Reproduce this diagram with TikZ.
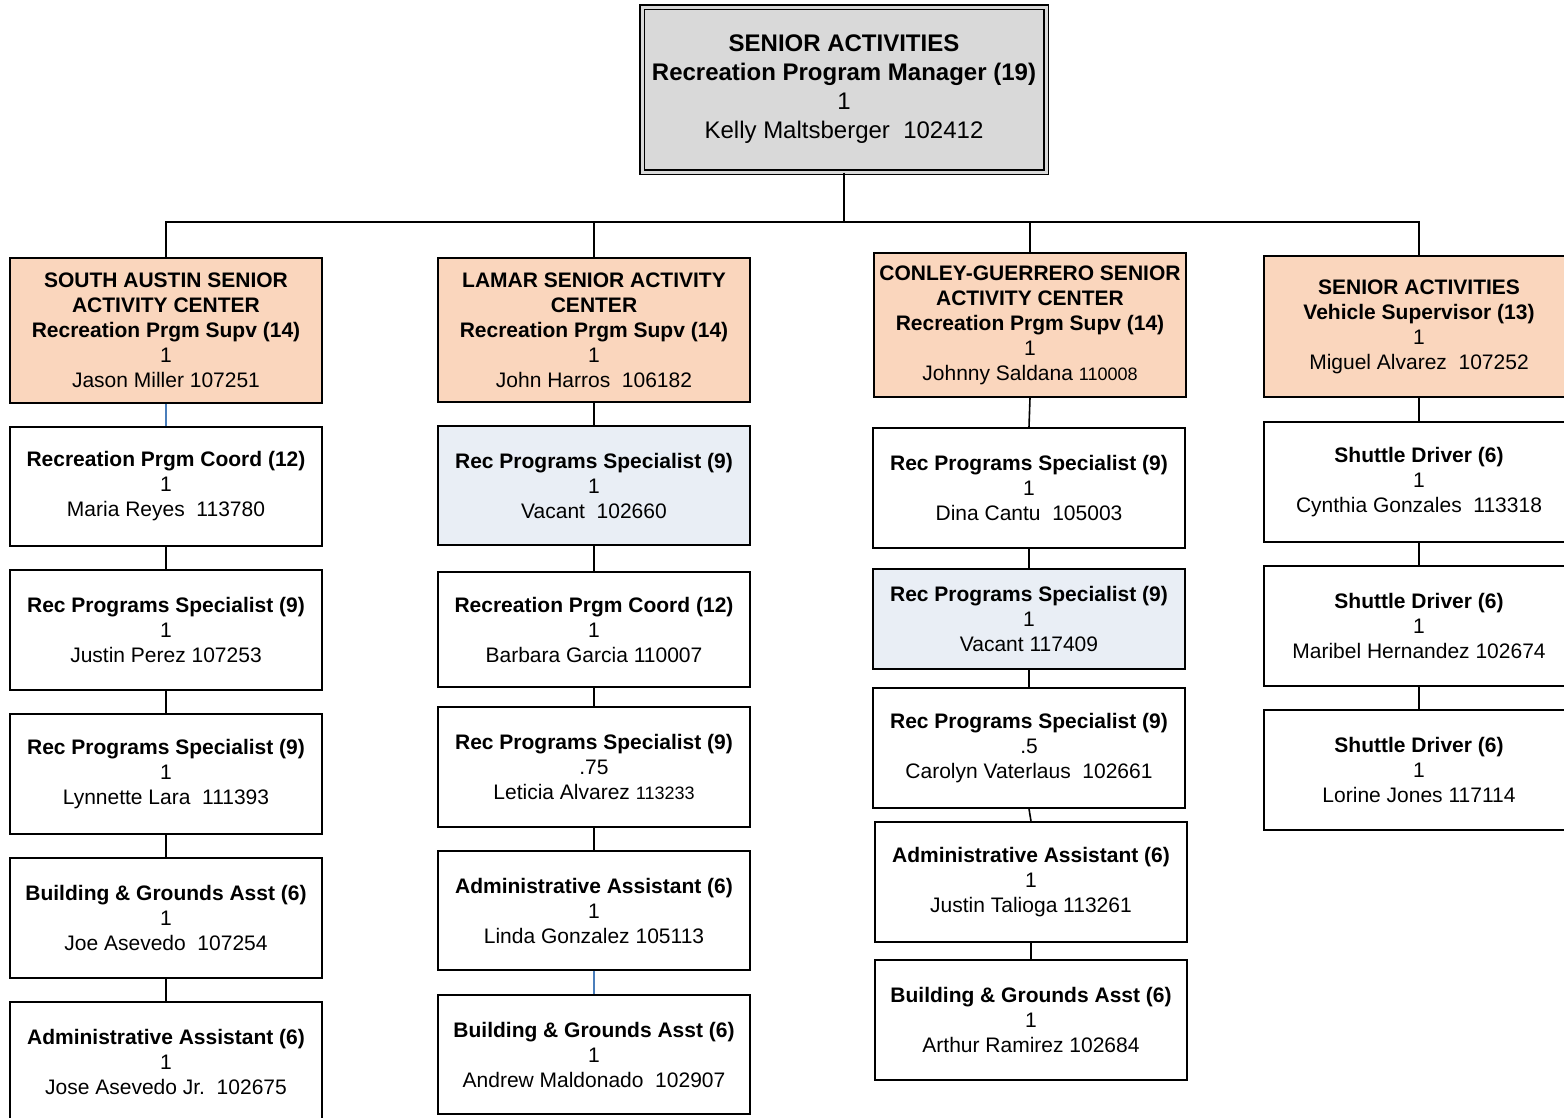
\documentclass[tikz,border=0pt]{standalone}
\usepackage{fontspec}
\setmainfont{Liberation Sans}
\definecolor{peach}{HTML}{FAD6BD}
\definecolor{vacblue}{HTML}{E9EEF5}
\definecolor{mgrgrey}{HTML}{D9D9D9}
\definecolor{linkblue}{HTML}{4A7EBB}
\newcommand{\smallnum}[1]{{\fontsize{18}{25}\selectfont #1}}

\begin{document}
\begin{tikzpicture}[
    x=1pt, y=-1pt,
    unit/.style={
        draw=black, line width=1.6pt, fill=#1,
        minimum width=312pt, minimum height=120pt, inner sep=0pt,
        font=\fontsize{21}{25}\selectfont, align=center,
    },
    unit/.default=white,
    mgrbox/.style={
        draw=black, line width=1.3pt, double=mgrgrey, double distance=3pt,
        fill=mgrgrey, minimum width=404pt, minimum height=165pt, inner sep=0pt,
        font=\fontsize{24}{29}\selectfont, align=center,
    },
    link/.style={line width=1.6pt, color=#1},
    link/.default=black,
]
\useasboundingbox (0,0) rectangle (1564,1117);

% ════════════════════════════════════════
% Manager
% ════════════════════════════════════════
\node[mgrbox] (mgr) at (844,89.5)
    {\textbf{SENIOR ACTIVITIES}\\\textbf{Recreation Program Manager (19)}\\1\\Kelly Maltsberger~~102412};
\coordinate (bus) at (844,222);

% ════════════════════════════════════════
% Centre heads
% ════════════════════════════════════════
\node[unit=peach, minimum height=145pt] (sa) at (166,330.5)
    {\textbf{SOUTH AUSTIN SENIOR}\\\textbf{ACTIVITY CENTER}\\\textbf{Recreation Prgm Supv (14)}\\1\\Jason Miller 107251};
\node[unit=peach, minimum height=144pt] (lam) at (594,330)
    {\textbf{LAMAR SENIOR ACTIVITY}\\\textbf{CENTER}\\\textbf{Recreation Prgm Supv (14)}\\1\\John Harros~~106182};
\node[unit=peach, minimum height=144pt] (con) at (1030,325)
    {\textbf{CONLEY-GUERRERO SENIOR}\\\textbf{ACTIVITY CENTER}\\\textbf{Recreation Prgm Supv (14)}\\1\\Johnny Saldana \smallnum{110008}};
\node[unit=peach, minimum width=310pt, minimum height=141pt] (veh) at (1419,326.5)
    {\textbf{SENIOR ACTIVITIES}\\\textbf{Vehicle Supervisor (13)}\\1\\Miguel Alvarez~~107252};

% manager → heads
\draw[link] (mgr.south) -- (bus);
\draw[link] (sa.north) -- (sa.north |- bus) -- (veh.north |- bus) -- (veh.north);
\draw[link] (lam.north) -- (lam.north |- bus);
\draw[link] (con.north) -- (con.north |- bus);

% ════════════════════════════════════════
% South Austin
% ════════════════════════════════════════
\node[unit, minimum height=119pt] (sa1) at (166,486.5)
    {\textbf{Recreation Prgm Coord (12)}\\1\\Maria Reyes~~113780};
\node[unit] (sa2) at (166,630)
    {\textbf{Rec Programs Specialist (9)}\\1\\Justin Perez 107253};
\node[unit] (sa3) at (166,774)
    {\textbf{Rec Programs Specialist (9)}\\1\\Lynnette Lara~~111393};
\node[unit] (sa4) at (166,918)
    {\textbf{Building \& Grounds Asst (6)}\\1\\Joe Asevedo~~107254};
\node[unit] (sa5) at (166,1062)
    {\textbf{Administrative Assistant (6)}\\1\\Jose Asevedo Jr.~~102675};

\draw[link=linkblue] (sa.south) -- (sa1.north);
\draw[link] (sa1.south) -- (sa2.north);
\draw[link] (sa2.south) -- (sa3.north);
\draw[link] (sa3.south) -- (sa4.north);
\draw[link] (sa4.south) -- (sa5.north);

% ════════════════════════════════════════
% Lamar
% ════════════════════════════════════════
\node[unit=vacblue, minimum height=119pt] (lam1) at (594,485.5)
    {\textbf{Rec Programs Specialist (9)}\\1\\Vacant~~102660};
\node[unit, minimum height=115pt] (lam2) at (594,629.5)
    {\textbf{Recreation Prgm Coord (12)}\\1\\Barbara Garcia 110007};
\node[unit] (lam3) at (594,767)
    {\textbf{Rec Programs Specialist (9)}\\.75\\Leticia Alvarez \smallnum{113233}};
\node[unit, minimum height=119pt] (lam4) at (594,910.5)
    {\textbf{Administrative Assistant (6)}\\1\\Linda Gonzalez 105113};
\node[unit, minimum height=119pt] (lam5) at (594,1054.5)
    {\textbf{Building \& Grounds Asst (6)}\\1\\Andrew Maldonado~~102907};

\draw[link] (lam.south) -- (lam1.north);
\draw[link] (lam1.south) -- (lam2.north);
\draw[link] (lam2.south) -- (lam3.north);
\draw[link] (lam3.south) -- (lam4.north);
\draw[link=linkblue] (lam4.south) -- (lam5.north);

% ════════════════════════════════════════
% Conley-Guerrero
% ════════════════════════════════════════
\node[unit] (con1) at (1029,488)
    {\textbf{Rec Programs Specialist (9)}\\1\\Dina Cantu~~105003};
\node[unit=vacblue, minimum height=100pt] (con2) at (1029,619)
    {\textbf{Rec Programs Specialist (9)}\\1\\Vacant 117409};
\node[unit] (con3) at (1029,748)
    {\textbf{Rec Programs Specialist (9)}\\.5\\Carolyn Vaterlaus~~102661};
\node[unit] (con4) at (1031,882)
    {\textbf{Administrative Assistant (6)}\\1\\Justin Talioga 113261};
\node[unit] (con5) at (1031,1020)
    {\textbf{Building \& Grounds Asst (6)}\\1\\Arthur Ramirez 102684};

\draw[link] (con.south) -- (con1.north);
\draw[link] (con1.south) -- (con2.north);
\draw[link] (con2.south) -- (con3.north);
\draw[link] (con3.south) -- (con4.north);
\draw[link] (con4.south) -- (con5.north);

% ════════════════════════════════════════
% Vehicles
% ════════════════════════════════════════
\node[unit, minimum width=310pt] (veh1) at (1419,482)
    {\textbf{Shuttle Driver (6)}\\1\\Cynthia Gonzales~~113318};
\node[unit, minimum width=310pt] (veh2) at (1419,626)
    {\textbf{Shuttle Driver (6)}\\1\\Maribel Hernandez 102674};
\node[unit, minimum width=310pt] (veh3) at (1419,770)
    {\textbf{Shuttle Driver (6)}\\1\\Lorine Jones 117114};

\draw[link] (veh.south) -- (veh1.north);
\draw[link] (veh1.south) -- (veh2.north);
\draw[link] (veh2.south) -- (veh3.north);

\end{tikzpicture}
\end{document}
